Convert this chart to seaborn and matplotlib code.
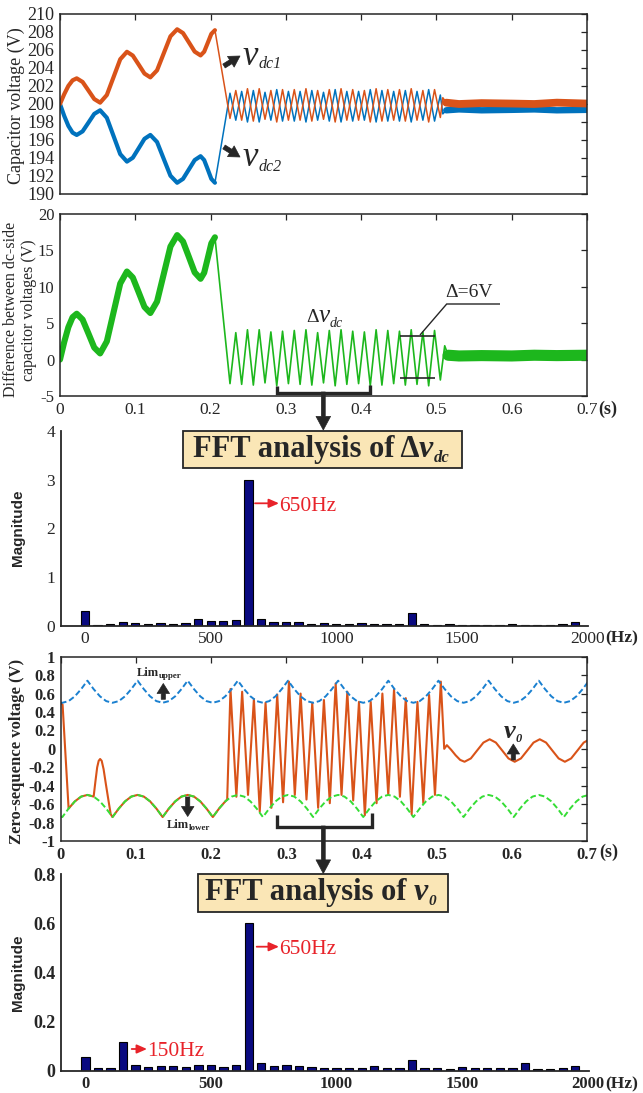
import matplotlib
matplotlib.use('Agg')
import matplotlib.pyplot as plt
import seaborn as sns
from matplotlib.patches import Rectangle, FancyArrowPatch
from matplotlib.lines import Line2D

# ---------------- data ----------------
x_ticks = [0, 0.1, 0.2, 0.3, 0.4, 0.5, 0.6, 0.7]
x_tick_labels = ['0', '0.1', '0.2', '0.3', '0.4', '0.5', '0.6', '0.7']

# panel 1 / 2 : start-up part (thick ripple band)
early_t = [0, 0.0056, 0.0111, 0.0167, 0.0222, 0.0300, 0.0378, 0.0455, 0.0533, 0.0622,
           0.0711, 0.0800, 0.0889, 0.0967, 0.1045, 0.1122, 0.1200, 0.1289, 0.1378, 0.1467,
           0.1556, 0.1634, 0.1712, 0.1789, 0.1867, 0.1915, 0.1963, 0.2010, 0.2058]
vdc1_early = [200.0, 201.09, 202.01, 202.63, 202.85, 202.45, 201.5, 200.55, 200.15, 201.0,
              202.98, 204.97, 205.8, 205.38, 204.38, 203.38, 202.96, 203.74, 205.63, 207.52,
              208.3, 207.88, 206.85, 205.82, 205.4, 205.81, 206.8, 207.79, 208.2]
vdc2_early = [200.0, 198.68, 197.57, 196.82, 196.56, 196.96, 197.93, 198.9, 199.3, 198.47,
              196.45, 194.43, 193.6, 194.03, 195.08, 196.13, 196.56, 195.78, 193.9, 192.03,
              191.25, 191.68, 192.73, 193.77, 194.2, 193.77, 192.73, 191.68, 191.25]
dv_early = [0.0, 2.41, 4.45, 5.82, 6.3, 5.5, 3.58, 1.65, 0.85, 2.5,
            6.48, 10.45, 12.1, 11.27, 9.25, 7.23, 6.4, 7.97, 11.75, 15.53,
            17.1, 16.22, 14.1, 11.98, 11.1, 11.93, 13.95, 15.97, 16.8]

# zig-zag part (vertices: trough, peak, trough, ...)
zz_t = [0.2258, 0.2335, 0.2413, 0.2490, 0.2568, 0.2646, 0.2723, 0.2801, 0.2879, 0.2956,
        0.3034, 0.3112, 0.3189, 0.3267, 0.3345, 0.3422, 0.3500, 0.3577, 0.3655, 0.3733,
        0.3810, 0.3888, 0.3966, 0.4043, 0.4121, 0.4199, 0.4276, 0.4354, 0.4432, 0.4509,
        0.4587, 0.4665, 0.4742, 0.4820, 0.4897, 0.4975, 0.5052]
vdc1_zz = [198.4, 201.5, 198.2, 201.7, 198.1, 201.7, 198.3, 201.5, 198.0, 201.6,
           198.2, 201.6, 198.2, 201.7, 198.1, 201.5, 198.3, 201.6, 198.0, 201.7,
           198.2, 201.6, 198.2, 201.5, 198.0, 201.7, 198.1, 201.6, 198.2, 201.6,
           198.1, 201.7, 198.2, 201.5, 198.0, 201.6, 198.5]
vdc2_zz = [201.2, 198.2, 201.4, 198.0, 201.5, 198.0, 201.3, 198.2, 201.6, 198.1,
           201.4, 198.1, 201.4, 198.0, 201.5, 198.2, 201.3, 198.1, 201.6, 198.0,
           201.4, 198.1, 201.4, 198.2, 201.6, 198.0, 201.5, 198.1, 201.4, 198.1,
           201.5, 198.0, 201.4, 198.2, 201.6, 198.1, 201.0]
dv_zz = [-3.3, 3.7, -3.4, 4.1, -3.5, 4.1, -3.2, 3.8, -3.6, 3.9,
         -3.3, 4.0, -3.4, 4.1, -3.5, 3.7, -3.2, 4.0, -3.6, 4.1,
         -3.4, 3.9, -3.3, 3.8, -3.6, 4.1, -3.5, 4.0, -3.3, 3.9,
         -3.5, 4.1, -3.4, 3.8, -3.6, 4.0, -2.8]

# after 0.5 s (balanced, thick band)
tail1_t = [0.5085, 0.513, 0.53, 0.56, 0.60, 0.63, 0.66, 0.70]
vdc1_tail = [200.7, 200.15, 200.0, 200.1, 200.05, 200.0, 200.15, 200.05]
vdc2_tail = [198.9, 199.3, 199.4, 199.3, 199.35, 199.4, 199.3, 199.35]
tail2_t = [0.511, 0.5155, 0.53, 0.56, 0.60, 0.63, 0.66, 0.70]
dv_tail = [1.9, 0.6, 0.5, 0.55, 0.5, 0.6, 0.55, 0.6]

# FFT spectra
freq = [0, 50, 100, 150, 200, 250, 300, 350, 400, 450,
        500, 550, 600, 650, 700, 750, 800, 850, 900, 950,
        1000, 1050, 1100, 1150, 1200, 1250, 1300, 1350, 1400, 1450,
        1500, 1550, 1600, 1650, 1700, 1750, 1800, 1850, 1900, 1950]
mag_dv = [0.31, 0.02, 0.04, 0.08, 0.05, 0.04, 0.06, 0.04, 0.06, 0.13,
          0.10, 0.09, 0.12, 3.00, 0.14, 0.07, 0.07, 0.07, 0.03, 0.05,
          0.03, 0.04, 0.05, 0.04, 0.03, 0.03, 0.26, 0.03, 0.02, 0.03,
          0.02, 0.02, 0.02, 0.02, 0.03, 0.02, 0.02, 0.02, 0.03, 0.08]
mag_v0 = [0.055, 0.012, 0.010, 0.118, 0.023, 0.015, 0.020, 0.018, 0.014, 0.022,
          0.024, 0.015, 0.022, 0.603, 0.030, 0.020, 0.022, 0.020, 0.016, 0.010,
          0.012, 0.010, 0.012, 0.018, 0.010, 0.010, 0.045, 0.012, 0.012, 0.008,
          0.014, 0.010, 0.010, 0.010, 0.012, 0.030, 0.008, 0.008, 0.010, 0.020]

# zero-sequence limits
lim_t = [0.0, 0.0022, 0.0105, 0.0188, 0.0272, 0.0355, 0.0438, 0.0522, 0.0605,
         0.0689, 0.0772, 0.0855, 0.0938, 0.1022, 0.1105, 0.1188, 0.1272,
         0.1355, 0.1438, 0.1522, 0.1605, 0.1688, 0.1772, 0.1855, 0.1938,
         0.2022, 0.2105, 0.2188, 0.2272, 0.2355, 0.2438, 0.2522, 0.2605,
         0.2688, 0.2772, 0.2855, 0.2938, 0.3022, 0.3105, 0.3188, 0.3272,
         0.3355, 0.3438, 0.3522, 0.3605, 0.3688, 0.3772, 0.3855, 0.3938,
         0.4022, 0.4105, 0.4188, 0.4272, 0.4355, 0.4438, 0.4522, 0.4605,
         0.4688, 0.4772, 0.4855, 0.4938, 0.5022, 0.5105, 0.5188, 0.5272,
         0.5355, 0.5438, 0.5522, 0.5605, 0.5688, 0.5772, 0.5855, 0.5938,
         0.6022, 0.6105, 0.6188, 0.6272, 0.6355, 0.6438, 0.6522, 0.6605,
         0.6688, 0.6772, 0.6855, 0.6938, 0.7022]
lim_upper = [0.501,
             0.5, 0.518, 0.57, 0.648, 0.74, 0.648, 0.57, 0.518,
             0.5, 0.518, 0.57, 0.648, 0.74, 0.648, 0.57, 0.518,
             0.5, 0.518, 0.57, 0.648, 0.74, 0.648, 0.57, 0.518,
             0.5, 0.518, 0.57, 0.648, 0.74, 0.648, 0.57, 0.518,
             0.5, 0.518, 0.57, 0.648, 0.74, 0.648, 0.57, 0.518,
             0.5, 0.518, 0.57, 0.648, 0.74, 0.648, 0.57, 0.518,
             0.5, 0.518, 0.57, 0.648, 0.74, 0.648, 0.57, 0.518,
             0.5, 0.518, 0.57, 0.648, 0.74, 0.648, 0.57, 0.518,
             0.5, 0.518, 0.57, 0.648, 0.74, 0.648, 0.57, 0.518,
             0.5, 0.518, 0.57, 0.648, 0.74, 0.648, 0.57, 0.518,
             0.5, 0.518, 0.57, 0.648, 0.74]
lim_lower = [-0.735,
             -0.74, -0.648, -0.57, -0.518, -0.5, -0.518, -0.57, -0.648,
             -0.74, -0.648, -0.57, -0.518, -0.5, -0.518, -0.57, -0.648,
             -0.74, -0.648, -0.57, -0.518, -0.5, -0.518, -0.57, -0.648,
             -0.74, -0.648, -0.57, -0.518, -0.5, -0.518, -0.57, -0.648,
             -0.74, -0.648, -0.57, -0.518, -0.5, -0.518, -0.57, -0.648,
             -0.74, -0.648, -0.57, -0.518, -0.5, -0.518, -0.57, -0.648,
             -0.74, -0.648, -0.57, -0.518, -0.5, -0.518, -0.57, -0.648,
             -0.74, -0.648, -0.57, -0.518, -0.5, -0.518, -0.57, -0.648,
             -0.74, -0.648, -0.57, -0.518, -0.5, -0.518, -0.57, -0.648,
             -0.74, -0.648, -0.57, -0.518, -0.5, -0.518, -0.57, -0.648,
             -0.74, -0.648, -0.57, -0.518, -0.5]

# zero-sequence voltage v0
v0a_t = [0.0, 0.0025, 0.0105, 0.0188, 0.0272, 0.0355, 0.0438, 0.0462, 0.0485, 0.0505,
         0.0524, 0.0545, 0.0570, 0.0600, 0.0635, 0.0665, 0.0689, 0.0772, 0.0855, 0.0938,
         0.1022, 0.1105, 0.1188, 0.1272, 0.1355, 0.1438, 0.1522, 0.1605, 0.1688, 0.1772,
         0.1855, 0.1938, 0.2022, 0.2105, 0.2188, 0.2213]
v0a = [0.5, 0.48, -0.648, -0.57, -0.518, -0.5, -0.518, -0.35, -0.2, -0.13,
       -0.11, -0.13, -0.22, -0.38, -0.56, -0.71, -0.74, -0.648, -0.57, -0.518,
       -0.5, -0.518, -0.57, -0.648, -0.74, -0.648, -0.57, -0.518, -0.5, -0.518,
       -0.57, -0.648, -0.74, -0.648, -0.57, -0.55]
v0b_t = [0.2257, 0.2335, 0.2412, 0.2490, 0.2568, 0.2646, 0.2723, 0.2801, 0.2878, 0.2956,
         0.3034, 0.3112, 0.3189, 0.3267, 0.3344, 0.3422, 0.3499, 0.3577, 0.3655, 0.3733,
         0.3810, 0.3888, 0.3965, 0.4043, 0.4121, 0.4199, 0.4276, 0.4354, 0.4431, 0.4509,
         0.4587, 0.4665, 0.4742, 0.4820, 0.4897, 0.4975, 0.5053]
v0b = [0.65, -0.52, 0.62, -0.50, 0.54, -0.68, 0.50, -0.64, 0.59, -0.58,
       0.73, -0.50, 0.60, -0.55, 0.50, -0.64, 0.53, -0.59, 0.71, -0.50,
       0.62, -0.56, 0.51, -0.72, 0.51, -0.59, 0.60, -0.50, 0.645, -0.52,
       0.55, -0.71, 0.51, -0.59, 0.585, -0.50, 0.73]
v0c_t = [0.5098, 0.5133, 0.5190, 0.5250, 0.5310, 0.5368, 0.5452, 0.5535, 0.5619, 0.5702,
         0.5785, 0.5869, 0.5952, 0.6035, 0.6118, 0.6202, 0.6285, 0.6368, 0.6452, 0.6535,
         0.6619, 0.6702, 0.6785, 0.6869, 0.6952, 0.7000]
v0c = [0.0, 0.04, -0.01, -0.07, -0.12, -0.14, -0.104, -0.018, 0.068, 0.104,
       0.068, -0.018, -0.104, -0.14, -0.104, -0.018, 0.068, 0.104, 0.068, -0.018,
       -0.104, -0.14, -0.104, -0.018, 0.068, 0.09]

# ---------------- style ----------------
ORANGE = '#D95319'
BLUE = '#0072BD'
GREEN = '#1DB71D'
LIME = '#35DD35'
DBLUE = '#1A80D0'
NAVY = '#0A0A80'
RED = '#E8232A'
DARK = '#262626'
BOXFILL = '#FAE6B6'

sns.set_theme(style='white')
plt.rcParams['font.family'] = ['Liberation Serif', 'DejaVu Serif']
plt.rcParams['axes.unicode_minus'] = False
plt.rcParams['text.color'] = DARK

W, H = 643, 1093
fig = plt.figure(figsize=(W / 100, H / 100), dpi=100)
fig.patch.set_facecolor('white')


def ax_at(x0, y0, x1, y1):
    return fig.add_axes([x0 / W, 1 - y1 / H, (x1 - x0) / W, (y1 - y0) / H])


def F(x, y):
    return (x / W, 1 - y / H)


def fline(xs, ys, lw=1.0, color=DARK):
    fig.add_artist(Line2D([x / W for x in xs], [1 - y / H for y in ys], lw=lw, color=color,
                          transform=fig.transFigure, solid_capstyle='butt',
                          solid_joinstyle='miter'))


def farrow(x0, y0, x1, y1, style, ms, color=DARK, lw=0.5):
    fig.add_artist(FancyArrowPatch(F(x0, y0), F(x1, y1), transform=fig.transFigure,
                                   arrowstyle=style, mutation_scale=ms, color=color,
                                   lw=lw, shrinkA=0, shrinkB=0))


def seq_text(x, y, pieces):
    r = fig.canvas.get_renderer()
    cx = x
    for s, kw, dy in pieces:
        t = fig.text(cx / W, 1 - (y + dy) / H, s, ha='left', va='baseline', **kw)
        bb = t.get_window_extent(renderer=r)
        cx = bb.x1


def style_time_axis(ax, labels, fs, fw):
    ax.set_xlim(0, 0.7)
    ax.set_xticks(x_ticks)
    if labels:
        ax.set_xticklabels(x_tick_labels, fontsize=fs, fontweight=fw)
    else:
        ax.set_xticklabels([])
    ax.tick_params(which='both', direction='in', top=True, right=True, length=4,
                   width=0.9, color=DARK, pad=4, labelcolor=DARK)
    for s in ax.spines.values():
        s.set_linewidth(1.1)
        s.set_color(DARK)
    ax.set_xlabel('')
    ax.set_ylabel('')


ax1 = ax_at(60, 14, 587, 194)
ax2 = ax_at(60, 214, 587, 396)
ax3 = ax_at(60.7, 431, 588.3, 625.7)
ax4 = ax_at(60.7, 656.7, 587.3, 841)
ax5 = ax_at(61, 874.3, 588.6, 1070.7)

lk = dict(sort=False, estimator=None, solid_joinstyle='round')

# ---------- panel 1 ----------
t_all = early_t + zz_t + tail1_t
sns.lineplot(x=t_all, y=vdc2_early + vdc2_zz + vdc2_tail, color=BLUE, lw=1.1, ax=ax1, **lk)
sns.lineplot(x=t_all, y=vdc1_early + vdc1_zz + vdc1_tail, color=ORANGE, lw=1.1, ax=ax1, **lk)
sns.lineplot(x=early_t, y=vdc2_early, color=BLUE, lw=3.0, ax=ax1, **lk)
sns.lineplot(x=early_t, y=vdc1_early, color=ORANGE, lw=3.0, ax=ax1, **lk)
sns.lineplot(x=tail1_t[1:], y=vdc2_tail[1:], color=BLUE, lw=4.6, ax=ax1, **lk)
sns.lineplot(x=tail1_t[1:], y=vdc1_tail[1:], color=ORANGE, lw=5.6, ax=ax1, **lk)
ax1.set_ylim(190, 210)
ax1.set_yticks(list(range(190, 211, 2)), labels=[str(v) for v in range(190, 211, 2)],
               fontsize=13)
style_time_axis(ax1, False, 13, 'normal')

# ---------- panel 2 ----------
t2_all = early_t + zz_t + tail2_t
sns.lineplot(x=t2_all, y=dv_early + dv_zz + dv_tail, color=GREEN, lw=1.2, ax=ax2, **lk)
sns.lineplot(x=early_t, y=dv_early, color=GREEN, lw=4.4, ax=ax2, **lk)
sns.lineplot(x=tail2_t[1:], y=dv_tail[1:], color=GREEN, lw=8, ax=ax2, **lk)
ax2.set_ylim(-5, 20)
ax2.set_yticks([-5, 0, 5, 10, 15, 20], labels=['-5', '0', '5', '10', '15', '20'], fontsize=12)
style_time_axis(ax2, True, 12.5, 'normal')

# ---------- panel 4 ----------
v0_t = v0a_t + v0b_t + v0c_t
v0_v = v0a + v0b + v0c
sns.lineplot(x=v0_t, y=v0_v, color=ORANGE, lw=1.5, ax=ax4, **lk)
sns.lineplot(x=lim_t, y=lim_lower, color=LIME, lw=1.4, linestyle=(0, (3, 1.5)), ax=ax4, **lk)
sns.lineplot(x=lim_t, y=lim_upper, color=DBLUE, lw=1.4, linestyle=(0, (3, 1.5)), ax=ax4, **lk)
ax4.set_ylim(-1, 1)
yt4 = [-1, -0.8, -0.6, -0.4, -0.2, 0, 0.2, 0.4, 0.6, 0.8, 1]
ax4.set_yticks(yt4, labels=['-1', '-0.8', '-0.6', '-0.4', '-0.2', '0', '0.2', '0.4', '0.6', '0.8', '1'],
               fontsize=12, fontweight='bold')
style_time_axis(ax4, True, 12, 'bold')


# ---------- FFT panels ----------
def style_fft(ax, yt, ylab, fsy, fwy, fsx, fwx):
    ax.set_xlim(-97, 2003)
    ax.set_xticks([0, 500, 1000, 1500, 2000], labels=['0', '500', '1000', '1500', '2000'],
                  fontsize=fsx, fontweight=fwx)
    ax.set_yticks(yt, labels=ylab, fontsize=fsy, fontweight=fwy)
    ax.set_ylim(yt[0], yt[-1])
    ax.spines['top'].set_visible(False)
    ax.spines['right'].set_visible(False)
    for s in ('left', 'bottom'):
        ax.spines[s].set_linewidth(1.3)
        ax.spines[s].set_color(DARK)
    ax.tick_params(direction='in', length=4, width=1, color=DARK, pad=4, labelcolor=DARK,
                   top=False, right=False)
    ax.set_xlabel('')
    ax.set_ylabel('')


sns.barplot(x=freq, y=mag_dv, native_scale=True, width=0.66, color=NAVY, saturation=1,
            edgecolor='black', linewidth=0.8, errorbar=None, ax=ax3)
style_fft(ax3, [0, 1, 2, 3, 4], ['0', '1', '2', '3', '4'], 12.5, 'normal', 12.5, 'normal')

sns.barplot(x=freq, y=mag_v0, native_scale=True, width=0.66, color=NAVY, saturation=1,
            edgecolor='black', linewidth=0.8, errorbar=None, ax=ax5)
style_fft(ax5, [0, 0.2, 0.4, 0.6, 0.8], ['0', '0.2', '0.4', '0.6', '0.8'], 13, 'bold', 12, 'bold')

# ---------- y labels ----------
fig.text(*F(16, 106), 'Capacitor voltage (V)', rotation=90, ha='center', va='center', fontsize=13)
fig.text(*F(11.5, 309), 'Difference between dc-side', rotation=90, ha='center', va='center',
         fontsize=11.5)
fig.text(*F(29, 310), 'capacitor voltages (V)', rotation=90, ha='center', va='center',
         fontsize=11.5)
fig.text(*F(18, 527.5), 'Magnitude', rotation=90, ha='center', va='center', fontsize=11,
         fontweight='bold', family=['Liberation Sans', 'DejaVu Sans'])
fig.text(*F(17.5, 751), 'Zero-sequence voltage (V)', rotation=90, ha='center', va='center',
         fontsize=12, fontweight='bold')
fig.text(*F(18, 972.5), 'Magnitude', rotation=90, ha='center', va='center', fontsize=11,
         fontweight='bold', family=['Liberation Sans', 'DejaVu Sans'])

# unit suffixes
fig.text(*F(598.5, 413.5), '(s)', ha='left', va='baseline', fontsize=13, fontweight='bold')
fig.text(*F(599, 856.5), '(s)', ha='left', va='baseline', fontsize=13, fontweight='bold')
fig.text(*F(605, 642.5), '(Hz)', ha='left', va='baseline', fontsize=12.5, fontweight='bold')
fig.text(*F(605, 1088), '(Hz)', ha='left', va='baseline', fontsize=12.5, fontweight='bold')

# ---------- annotations panel 1 ----------
thick = 'simple,head_length=0.6,head_width=0.7,tail_width=0.25'
farrow(224, 66, 240, 56, thick, 13)
farrow(224, 147, 240, 157, thick, 13)
seq_text(243, 65, [('v', dict(fontsize=25, style='italic'), 0),
                   ('dc1', dict(fontsize=11.5, style='italic'), 3)])
seq_text(243, 166.5, [('v', dict(fontsize=25, style='italic'), 0),
                      ('dc2', dict(fontsize=11.5, style='italic'), 4)])

# ---------- annotations panel 2 ----------
seq_text(306, 322, [('Δ', dict(fontsize=14), 0), ('v', dict(fontsize=18, style='italic'), 0),
                    ('dc', dict(fontsize=10, style='italic'), 5)])
fig.text(*F(445, 296.7), 'Δ=6V', ha='left', va='baseline', fontsize=14)
fline([500, 446.7, 420], [304, 304, 335], lw=1.0)
fline([400, 435], [336, 336], lw=1.2)
fline([400, 435], [378.3, 378.3], lw=1.2)
fline([276.7, 276.7, 370, 370], [385.5, 392.7, 392.7, 385], lw=2.4)
down = 'simple,head_length=0.7,head_width=0.75,tail_width=0.2'
farrow(323.3, 392, 323.3, 430, down, 14)

# ---------- panel 3 annotations ----------
fig.add_artist(Rectangle(F(182.7, 467.7), (461.7 - 182.7) / W, (467.7 - 431) / H,
                         transform=fig.transFigure, facecolor=BOXFILL, edgecolor=DARK, lw=1.3))
seq_text(192.7, 456.7, [('FFT analysis of Δ', dict(fontsize=22, fontweight='bold'), 0),
                        ('v', dict(fontsize=23, fontweight='bold', style='italic'), 0),
                        ('dc', dict(fontsize=12, fontweight='bold', style='italic'), 5)])
redarr = '-|>,head_length=0.5,head_width=0.22'
farrow(255, 503.3, 279, 503.3, redarr, 12, color=RED, lw=1.3)
fig.text(*F(279, 511), '650Hz', ha='left', va='baseline', fontsize=15.5, color=RED)

# ---------- panel 4 annotations ----------
small = 'simple,head_length=0.6,head_width=0.75,tail_width=0.25'
farrow(163.3, 699.3, 163.3, 683.5, small, 12)
seq_text(136.7, 676, [('Lim', dict(fontsize=9, fontweight='bold'), 0),
                      ('upper', dict(fontsize=6.5, fontweight='bold'), 1.5)])
farrow(187.7, 797, 187.7, 816.5, small, 12)
seq_text(166.7, 828.3, [('Lim', dict(fontsize=9, fontweight='bold'), 0),
                        ('lower', dict(fontsize=6.5, fontweight='bold'), 1.5)])
farrow(513.3, 760, 513.3, 744, small, 12)
seq_text(504, 738, [('v', dict(fontsize=19, fontweight='bold', style='italic'), 0),
                    ('0', dict(fontsize=9, fontweight='bold', style='italic'), 4)])
fline([276.7, 276.7, 371.7, 371.7], [815, 826.7, 826.7, 813], lw=2.4)
farrow(323.3, 826, 323.3, 873.5, down, 14)

# ---------- panel 5 annotations ----------
fig.add_artist(Rectangle(F(197.7, 911.7), (448.3 - 197.7) / W, (911.7 - 874.3) / H,
                         transform=fig.transFigure, facecolor=BOXFILL, edgecolor=DARK, lw=1.3))
seq_text(205, 900, [('FFT analysis of ', dict(fontsize=22, fontweight='bold'), 0),
                    ('v', dict(fontsize=23, fontweight='bold', style='italic'), 0),
                    ('0', dict(fontsize=11, fontweight='bold', style='italic'), 5)])
farrow(131.7, 1049, 147, 1049, redarr, 12, color=RED, lw=1.3)
fig.text(*F(147, 1055.7), '150Hz', ha='left', va='baseline', fontsize=15.5, color=RED)
farrow(256.7, 946.7, 279, 946.7, redarr, 12, color=RED, lw=1.3)
fig.text(*F(279, 954.3), '650Hz', ha='left', va='baseline', fontsize=15.5, color=RED)

fig.savefig('out.png', dpi=100, facecolor='white')
